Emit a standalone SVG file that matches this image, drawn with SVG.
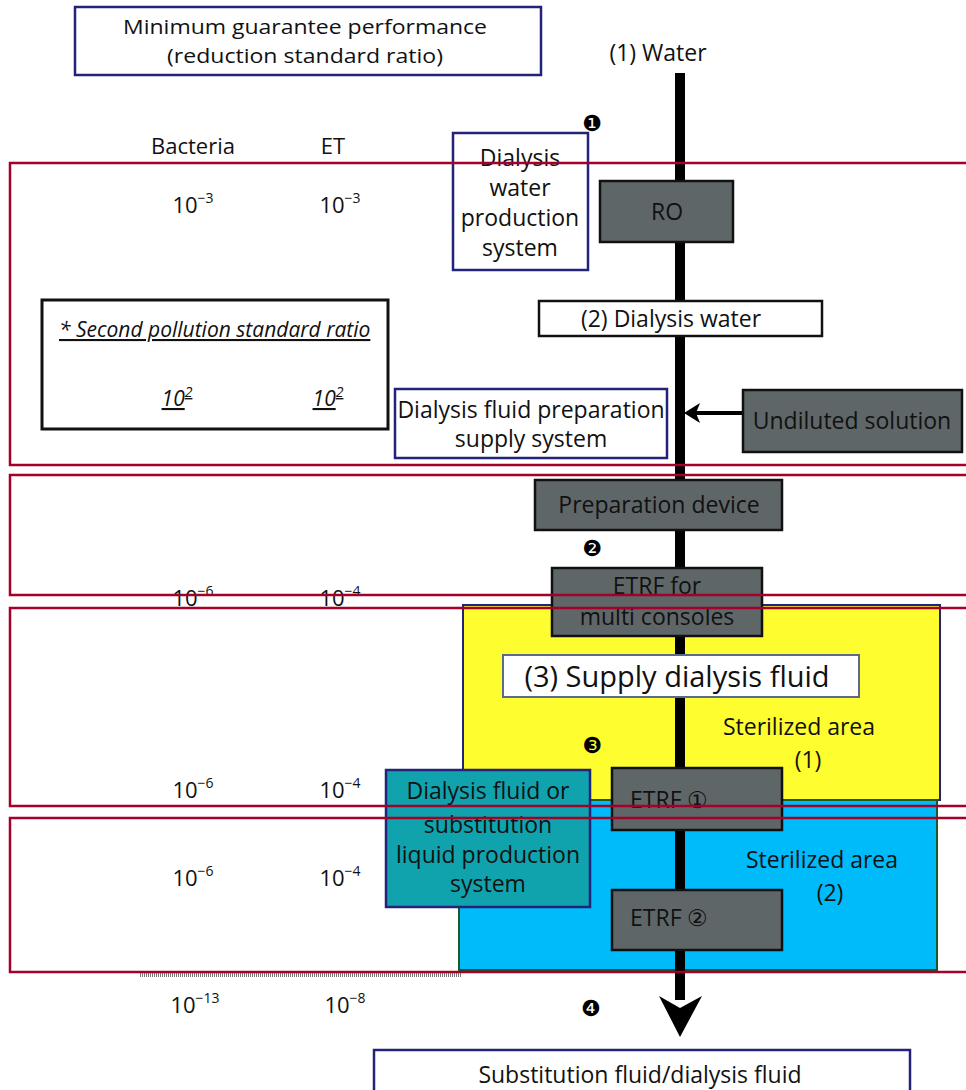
<svg xmlns="http://www.w3.org/2000/svg" width="966" height="1090" viewBox="0 0 966 1090">
<style>
text{font-family:"Open Sans","Noto Sans","Liberation Sans",sans-serif;fill:#111;}
.t{font-size:23px;text-anchor:middle;}
.n{font-size:22px;text-anchor:middle;}
.sup{font-size:14px;}
.blue{fill:#fff;stroke:#23237a;stroke-width:2.5;}
.gray{fill:#5f6668;stroke:#111;stroke-width:2.5;}
.wb{fill:#fff;stroke:#111;stroke-width:2.5;}
.red{fill:none;stroke:#a3002a;stroke-width:2.5;}
.num{font-family:"DejaVu Sans",sans-serif;font-size:22px;text-anchor:middle;fill:#000;}
</style>
<rect width="966" height="1090" fill="#fff"/>

<g id="areas">
<rect x="463" y="605" width="477" height="195" fill="#fdfd30" stroke="#23237a" stroke-width="2"/>
<rect x="459" y="800" width="478" height="170" fill="#00bbf9" stroke="#1d5a2a" stroke-width="2"/>
</g>

<g id="connectors">
<line x1="680" y1="73" x2="680" y2="1000" stroke="#000" stroke-width="10"/>
<path d="M659,996 L680,1037 L702,996 L680,1008 Z" fill="#000"/>
<line x1="743" y1="413" x2="692" y2="413" stroke="#000" stroke-width="4"/>
<path d="M684,413 L700,403 L696,413 L700,423 Z" fill="#000"/>
</g>

<g id="title">
<rect x="75" y="7" width="466" height="68" class="blue"/>
<text x="305" y="34" font-size="20" text-anchor="middle" textLength="364" lengthAdjust="spacingAndGlyphs">Minimum guarantee performance</text>
<text x="305" y="63" font-size="20" text-anchor="middle" textLength="276" lengthAdjust="spacingAndGlyphs">(reduction standard ratio)</text>
</g>

<g id="water"><text class="t" x="658" y="61">(1) Water</text></g>

<g id="headers">
<text class="n" x="193" y="154">Bacteria</text>
<text class="n" x="333" y="154">ET</text>
</g>

<g id="values">
<text class="n" x="193" y="213">10<tspan class="sup" dy="-10">−3</tspan></text>
<text class="n" x="340" y="213">10<tspan class="sup" dy="-10">−3</tspan></text>
<text class="n" x="193" y="606">10<tspan class="sup" dy="-10">−6</tspan></text>
<text class="n" x="340" y="606">10<tspan class="sup" dy="-10">−4</tspan></text>
<text class="n" x="193" y="798">10<tspan class="sup" dy="-10">−6</tspan></text>
<text class="n" x="340" y="798">10<tspan class="sup" dy="-10">−4</tspan></text>
<text class="n" x="193" y="886">10<tspan class="sup" dy="-10">−6</tspan></text>
<text class="n" x="340" y="886">10<tspan class="sup" dy="-10">−4</tspan></text>
<text class="n" x="195" y="1013">10<tspan class="sup" dy="-10">−13</tspan></text>
<text class="n" x="345" y="1013">10<tspan class="sup" dy="-10">−8</tspan></text>
<line x1="140" y1="975" x2="462" y2="975" stroke="#777" stroke-width="4" stroke-dasharray="1 1"/>
</g>

<g id="markers">
<text class="num" x="592" y="131">❶</text>
<text class="num" x="592" y="556">❷</text>
<text class="num" x="592" y="753">❸</text>
<text class="num" x="591" y="1016">❹</text>
</g>

<g id="dwps">
<rect x="453" y="133" width="135" height="137" class="blue"/>
<text class="t" x="520" y="166">Dialysis</text>
<text class="t" x="520" y="196">water</text>
<text class="t" x="520" y="226">production</text>
<text class="t" x="520" y="256">system</text>
</g>

<g id="ro">
<rect x="600" y="181" width="133" height="61" class="gray"/>
<text class="t" x="667" y="220">RO</text>
</g>

<g id="dialysis-water">
<rect x="539" y="301" width="283" height="35" class="wb"/>
<text class="t" x="671" y="327">(2) Dialysis water</text>
</g>

<g id="second-pollution">
<rect x="42" y="300" width="346" height="129" fill="#fff" stroke="#111" stroke-width="3"/>
<text x="59" y="337" font-size="21" font-style="italic" text-decoration="underline">* Second pollution standard ratio</text>
<text x="177" y="406" font-size="21" font-style="italic" text-anchor="middle" text-decoration="underline">10<tspan font-size="14" dy="-9">2</tspan></text>
<text x="328" y="406" font-size="21" font-style="italic" text-anchor="middle" text-decoration="underline">10<tspan font-size="14" dy="-9">2</tspan></text>
</g>

<g id="dfpss">
<rect x="395" y="389" width="272" height="69" class="blue"/>
<text class="t" x="531" y="418">Dialysis fluid preparation</text>
<text class="t" x="531" y="447">supply system</text>
</g>

<g id="undiluted">
<rect x="743" y="390" width="219" height="62" class="gray"/>
<text class="t" x="852" y="429">Undiluted solution</text>
</g>

<g id="prep">
<rect x="535" y="480" width="247" height="50" class="gray"/>
<text class="t" x="659" y="513">Preparation device</text>
</g>

<g id="etrf-multi">
<rect x="552" y="568" width="210" height="68" class="gray"/>
<text class="t" x="657" y="594">ETRF for</text>
<text class="t" x="657" y="625">multi consoles</text>
</g>

<g id="supply">
<rect x="503" y="655" width="356" height="42" fill="#fff" stroke="#5a6a8a" stroke-width="2"/>
<text x="677" y="687" font-size="29" text-anchor="middle">(3) Supply dialysis fluid</text>
</g>

<g id="area1-label">
<text class="t" x="799" y="735">Sterilized area</text>
<text class="t" x="808" y="768">(1)</text>
</g>
<g id="area2-label">
<text class="t" x="822" y="868">Sterilized area</text>
<text class="t" x="830" y="901">(2)</text>
</g>

<g id="dfslps">
<rect x="386" y="770" width="204" height="137" fill="#10a3ae" stroke="#23237a" stroke-width="2.5"/>
<text class="t" x="488" y="799">Dialysis fluid or</text>
<text class="t" x="488" y="833">substitution</text>
<text class="t" x="488" y="863">liquid production</text>
<text class="t" x="488" y="892">system</text>
</g>

<g id="etrf1">
<rect x="612" y="768" width="170" height="62" class="gray"/>
<text x="630" y="808" font-size="23">ETRF ①</text>
</g>
<g id="etrf2">
<rect x="612" y="890" width="170" height="60" class="gray"/>
<text x="630" y="926" font-size="23">ETRF ②</text>
</g>

<g id="output">
<rect x="374" y="1050" width="536" height="50" class="blue"/>
<text class="t" x="640" y="1083">Substitution fluid/dialysis fluid</text>
</g>

<g id="bands">
<rect x="10" y="163" width="965" height="302" class="red"/>
<rect x="10" y="475" width="965" height="120" class="red"/>
<rect x="10" y="608" width="965" height="198" class="red"/>
<rect x="10" y="818" width="965" height="154" class="red"/>
</g>
</svg>
